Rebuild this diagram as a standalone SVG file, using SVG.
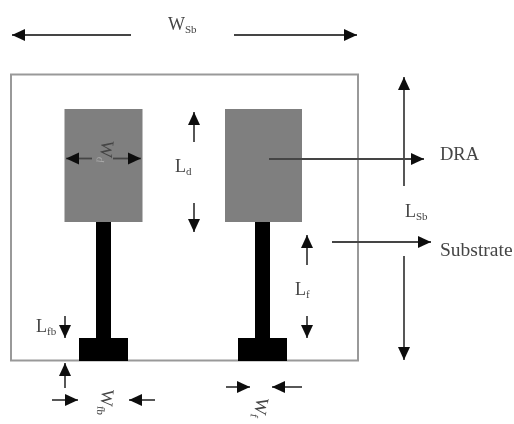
<svg xmlns="http://www.w3.org/2000/svg" width="514" height="424" viewBox="0 0 514 424">
<defs>
<marker id="ah" markerUnits="userSpaceOnUse" markerWidth="14" markerHeight="14" refX="13" refY="7" orient="auto"><path d="M0,1 L13,7 L0,13 Z" fill="#111"/></marker>
<filter id="soft" x="-5%" y="-5%" width="110%" height="110%"><feGaussianBlur stdDeviation="0.7"/></filter>
</defs>
<style>
.c{fill:none;stroke:#444;stroke-width:1.8;marker-end:url(#ah)}
.t{font-family:"Liberation Serif",serif;font-size:18px;fill:#444}
.s{font-size:11px}
.patch{fill:#7f7f7f}
.feed{fill:#000}
</style>
<rect width="514" height="424" fill="#fff"/>
<g filter="url(#soft)">
<g id="substrate"><rect x="11" y="74.5" width="347" height="286" fill="#fff" stroke="#999" stroke-width="2"/></g>
<g id="dra-left"><rect class="patch" x="64.5" y="109" width="78" height="113"/></g>
<g id="dra-right"><rect class="patch" x="225" y="109" width="77" height="113"/></g>
<g id="feed-left"><rect class="feed" x="96" y="222" width="15" height="118"/><rect class="feed" x="79" y="338" width="49" height="23"/></g>
<g id="feed-right"><rect class="feed" x="255" y="222" width="15" height="118"/><rect class="feed" x="238" y="338" width="49" height="23"/></g>
<g id="connectors">
<path class="c" d="M131,35H12"/>
<path class="c" d="M234,35H357"/>
<path class="c" d="M92,158.500H66"/>
<path class="c" d="M113,158.500H141"/>
<path class="c" d="M194,142V112"/>
<path class="c" d="M194,203V232"/>
<path class="c" d="M269,159H424"/>
<path class="c" d="M404,186V77"/>
<path class="c" d="M404,256V360"/>
<path class="c" d="M332,242H431"/>
<path class="c" d="M307,265V235"/>
<path class="c" d="M307,316V338"/>
<path class="c" d="M65,316V338"/>
<path class="c" d="M65,388V363"/>
<path class="c" d="M52,400H78"/>
<path class="c" d="M155,400H129"/>
<path class="c" d="M226,387H250"/>
<path class="c" d="M302,387H272"/>
</g>
<g id="labels">
<text class="t" x="168" y="30">W<tspan class="s" dy="3">Sb</tspan></text>
<text class="t" x="175" y="172">L<tspan class="s" dy="3">d</tspan></text>
<text class="t" x="440" y="160" style="font-size:18.500px">DRA</text>
<text class="t" x="405" y="217">L<tspan class="s" dy="3">Sb</tspan></text>
<text class="t" x="440" y="256" style="font-size:19.500px">Substrate</text>
<text class="t" x="295" y="295">L<tspan class="s" dy="3">f</tspan></text>
<text class="t" x="36" y="332">L<tspan class="s" dy="3">fb</tspan></text>
<text class="t" transform="translate(102,140) rotate(97)" x="0" y="0">W<tspan class="s" dy="3" style="fill:#aaa">d</tspan></text>
<text class="t" transform="translate(102,389) rotate(95)" x="0" y="0">W<tspan class="s" dy="3">fb</tspan></text>
<text class="t" transform="translate(257,397) rotate(100)" x="0" y="0">W<tspan class="s" dy="3">f</tspan></text>
</g>
</g>
</svg>
